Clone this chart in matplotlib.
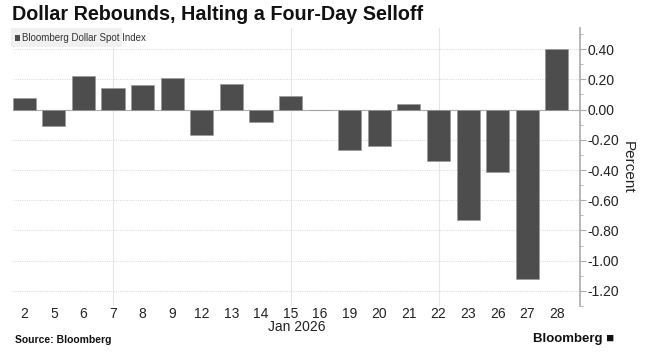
import numpy as np
import matplotlib
matplotlib.use("Agg")
from matplotlib import pyplot as plt
from matplotlib.patches import Rectangle

days = ["2", "5", "6", "7", "8", "9", "12", "13", "14", "15", "16",
        "19", "20", "21", "22", "23", "26", "27", "28"]
changes = [0.08, -0.11, 0.22, 0.14, 0.16, 0.21, -0.17, 0.17, -0.08, 0.09, -0.005,
           -0.27, -0.24, 0.04, -0.34, -0.73, -0.41, -1.12, 0.40]
yticks = [0.40, 0.20, 0.00, -0.20, -0.40, -0.60, -0.80, -1.00, -1.20]
vgrid_days = ["7", "15", "22"]

plt.rcParams['font.family'] = ['Liberation Sans', 'DejaVu Sans']

fig = plt.figure(figsize=(6.6, 3.59), dpi=100)
ax = fig.add_axes([12.7/660, 1 - 306/359, (580 - 12.7)/660, (306 - 28)/359])

xpos = np.arange(len(days))
ax.bar(xpos, changes, width=0.78, color="#4d4d4d", edgecolor="#9a9a9a", linewidth=0.5, zorder=3)

ax.set_xlim(-0.39, len(days) - 1 + 0.78)
ax.set_ylim(-1.276, 0.54)

for d in vgrid_days:
    ax.axvline(days.index(d), color="#e6e6e6", linewidth=0.8, zorder=1)
for t in yticks:
    ax.axhline(t, color="#dddddd", linewidth=0.8, linestyle=(0, (1, 1)), zorder=1)
ax.axhline(0, color="#b0b0b0", linewidth=0.8, zorder=2)

for s in ["top", "left", "bottom"]:
    ax.spines[s].set_visible(False)
ax.spines["right"].set_color("#aaaaaa")
ax.spines["right"].set_linewidth(1.2)

ax.yaxis.tick_right()
ax.set_yticks(yticks)
ax.set_yticklabels(["%.2f" % t for t in yticks])
ax.set_yticks(np.arange(-1.3, 0.55, 0.1), minor=True)
ax.tick_params(axis="y", which="major", length=4, color="#aaaaaa", labelsize=10, pad=1.5, labelcolor="#222222")
ax.tick_params(axis="y", which="minor", length=2.5, color="#aaaaaa")
ax.yaxis.set_label_position("right")
ax.set_ylabel("Percent", rotation=270, fontsize=11, labelpad=11, color="#222222")

ax.set_xticks(xpos)
ax.set_xticklabels(days)
ax.tick_params(axis="x", length=0, labelsize=10, pad=1, labelcolor="#222222")

fig.text(325/660, 1 - 327/359, "Jan 2026", ha="right", va="center", fontsize=10, color="#222222")

fig.text(12/660, 1 - 14/359, "Dollar Rebounds, Halting a Four-Day Selloff", ha="left", va="center",
         fontsize=14.2, fontweight="bold", color="#111111")

fig.patches.append(Rectangle((11/660, 1 - 47/359), 111/660, 19/359, transform=fig.transFigure,
                             facecolor="#f0f0f0", edgecolor="none", zorder=5))
fig.patches.append(Rectangle((15/660, 1 - 40.5/359), 5/660, 5/359, transform=fig.transFigure,
                             facecolor="#4d4d4d", edgecolor="none", zorder=6))
fig.text(22/660, 1 - 38/359, "Bloomberg Dollar Spot Index", ha="left", va="center", fontsize=7,
         color="#333333", zorder=7)

fig.text(15/660, 1 - 340/359, "Source: Bloomberg", ha="left", va="center", fontsize=7.5,
         fontweight="bold", color="#111111")
fig.text(614/660, 1 - 339/359, "Bloomberg \u25a0", ha="right", va="center", fontsize=9.5,
         fontweight="bold", color="#111111")

fig.savefig("out.png", dpi=100, facecolor="white")
